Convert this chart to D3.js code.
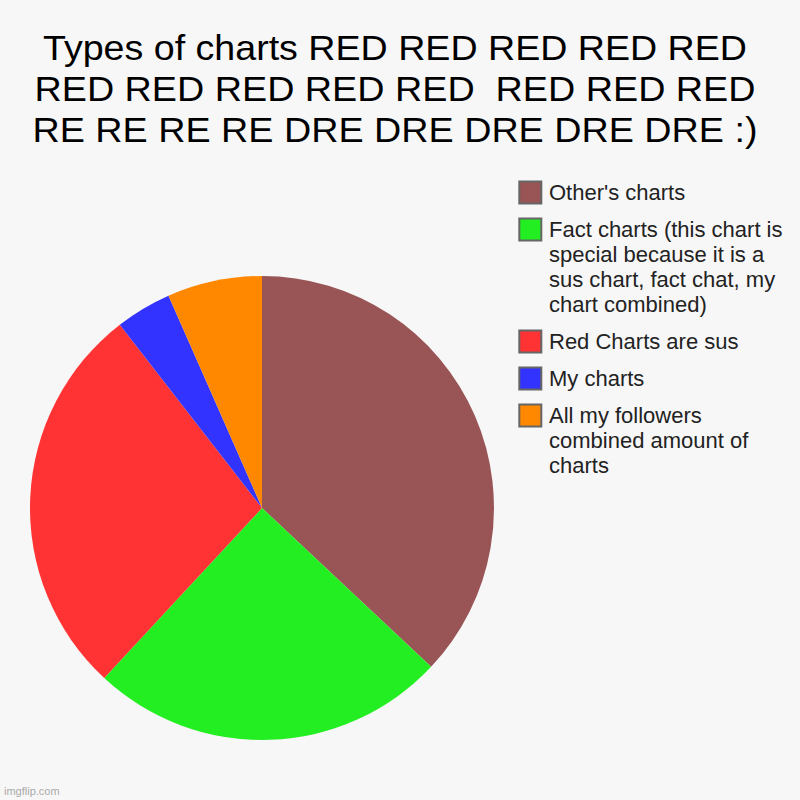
<!DOCTYPE html>
<html>
<head>
<meta charset="utf-8">
<script src="https://cdn.jsdelivr.net/npm/d3@7"></script>
<style>
    body { margin: 0; background: #f7f7f7; }
    svg { display: block; font-family: "Liberation Sans", Arial, sans-serif; }
</style>
</head>
<body>
<div id="pie"></div>
<script>
var svgWidth = 800;
var svgHeight = 800;

// title lines and the width each line is squeezed to
var titleLines = [
    "Types of charts RED RED RED RED RED",
    "RED RED RED RED RED  RED RED RED",
    "RE RE RE RE DRE DRE DRE DRE DRE :)"
];
var titleWidths = [704, 721, 725];

var labels = [
    ["Other's charts"],
    ["Fact charts (this chart is", "special because it is a", "sus chart, fact chat, my", "chart combined)"],
    ["Red Charts are sus"],
    ["My charts"],
    ["All my followers", "combined amount of", "charts"]
];
var values = [37, 24.9, 27.6, 3.9, 6.6];
var colors = ["#995555", "#22ee22", "#ff3333", "#3333ff", "#ff8800"];

var pieCenter = { x: 262, y: 508 };
var radius = 232;

var svg = d3.select( "#pie")
    .append( "svg")
    .attr( "width", svgWidth)
    .attr( "height", svgHeight);

svg.append( "rect")
    .attr( "width", svgWidth)
    .attr( "height", svgHeight)
    .attr( "fill", "#f7f7f7");

// title
svg.append( "g")
    .selectAll( "text")
    .data( titleLines)
    .enter()
    .append( "text")
    .attr( "x", 395)
    .attr( "y", (d, i) => 59.5 + i * 41)
    .attr( "text-anchor", "middle")
    .attr( "font-size", 35)
    .attr( "fill", "#000")
    .attr( "textLength", (d, i) => titleWidths[i])
    .attr( "lengthAdjust", "spacingAndGlyphs")
    .style( "white-space", "pre")
    .text( d => d);

// pie
var pie = d3.pie()
    .sort( null)
    .value( d => d);

var arc = d3.arc()
    .innerRadius( 0)
    .outerRadius( radius);

var pieGroup = svg.append( "g")
    .attr( "transform", `translate(${pieCenter.x}, ${pieCenter.y})`);

pieGroup.selectAll( "path")
    .data( pie( values))
    .enter()
    .append( "path")
    .attr( "d", arc)
    .attr( "fill", (d, i) => colors[i]);

// legend
var lineHeight = 25;
var itemGap = 12;
var legendTop = 181.5;
var legend = svg.append( "g");

var yPos = legendTop;
labels.forEach( function( lines, i) {
    var item = legend.append( "g")
        .attr( "transform", `translate(519.3, ${yPos})`);

    item.append( "rect")
        .attr( "width", 22)
        .attr( "height", 22)
        .attr( "fill", colors[i])
        .attr( "stroke", "#666")
        .attr( "stroke-width", 2);

    item.selectAll( "text")
        .data( lines)
        .enter()
        .append( "text")
        .attr( "x", 29.7)
        .attr( "y", (d, j) => 18.5 + j * lineHeight)
        .attr( "font-size", 22)
        .attr( "fill", "#222")
        .text( d => d);

    yPos += lines.length * lineHeight + itemGap;
});

// watermark
svg.append( "text")
    .attr( "x", 4)
    .attr( "y", 795)
    .attr( "font-size", 11)
    .attr( "fill", "#aaa")
    .text( "imgflip.com");
</script>
</body>
</html>
